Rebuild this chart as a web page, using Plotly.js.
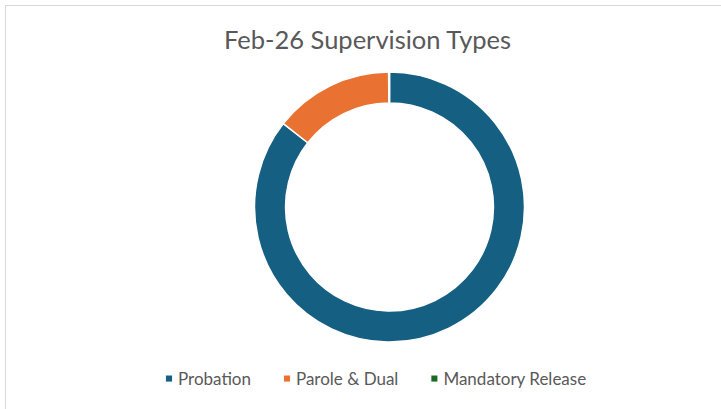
<!DOCTYPE html>
<html>
<head>
<meta charset="utf-8">
<script src="https://cdn.plot.ly/plotly-3.0.1.min.js"></script>
<style>
  html, body { margin: 0; padding: 0; background: #fff; }
  #wrap { position: relative; width: 721px; height: 409px; overflow: hidden; }
  #chart { width: 721px; height: 409px; }
  #frame { position: absolute; left: 5px; top: 5px; width: 730px; height: 420px;
           border-left: 1px solid #D9D9D9; border-top: 1px solid #D9D9D9; pointer-events: none; }
  .legend .legendpoints path { transform: translate(31px, 0) scale(0.58); }
</style>
</head>
<body>
<div id="wrap">
  <div id="chart"></div>
  <div id="frame"></div>
</div>
<script>
const chartTitle = "Feb-26 Supervision Types";
const categories = ["Probation", "Parole & Dual", "Mandatory Release"];
const shares = [85.6, 14.3, 0.1];
const colors = ["#156082", "#E97132", "#196B24"];

const W = 721, H = 409;
const cx = 389.5, cy = 207, R = 135;

const data = [{
  type: "pie",
  labels: categories,
  values: shares,
  hole: 0.77,
  sort: false,
  direction: "clockwise",
  rotation: 0,
  textinfo: "none",
  hoverinfo: "label+percent",
  domain: { x: [(cx - R) / W, (cx + R) / W], y: [0, 1] },
  marker: { colors: colors, line: { color: "#FFFFFF", width: 1.5 } },
  showlegend: true
}];

const layout = {
  width: W, height: H,
  paper_bgcolor: "#FFFFFF",
  plot_bgcolor: "#FFFFFF",
  margin: { l: 0, r: 0, t: cy - R, b: H - (cy + R), pad: 0 },
  font: { family: "Lato, 'Open Sans', sans-serif", color: "#595959" },
  title: {
    text: chartTitle,
    font: { family: "Lato, 'Open Sans', sans-serif", size: 25.5, color: "#595959" },
    xref: "container", yref: "container",
    x: 367.5 / W, xanchor: "center",
    y: 1 - 40 / H, yanchor: "middle"
  },
  legend: {
    orientation: "h",
    xref: "container", yref: "container",
    x: 365 / W, xanchor: "center",
    y: 1 - 379 / H, yanchor: "middle",
    font: { family: "Lato, 'Open Sans', sans-serif", size: 17, color: "#595959" },
    bgcolor: "rgba(0,0,0,0)",
    itemclick: false
  }
};

Plotly.newPlot("chart", data, layout, { displayModeBar: false, staticPlot: true });
</script>
</body>
</html>
